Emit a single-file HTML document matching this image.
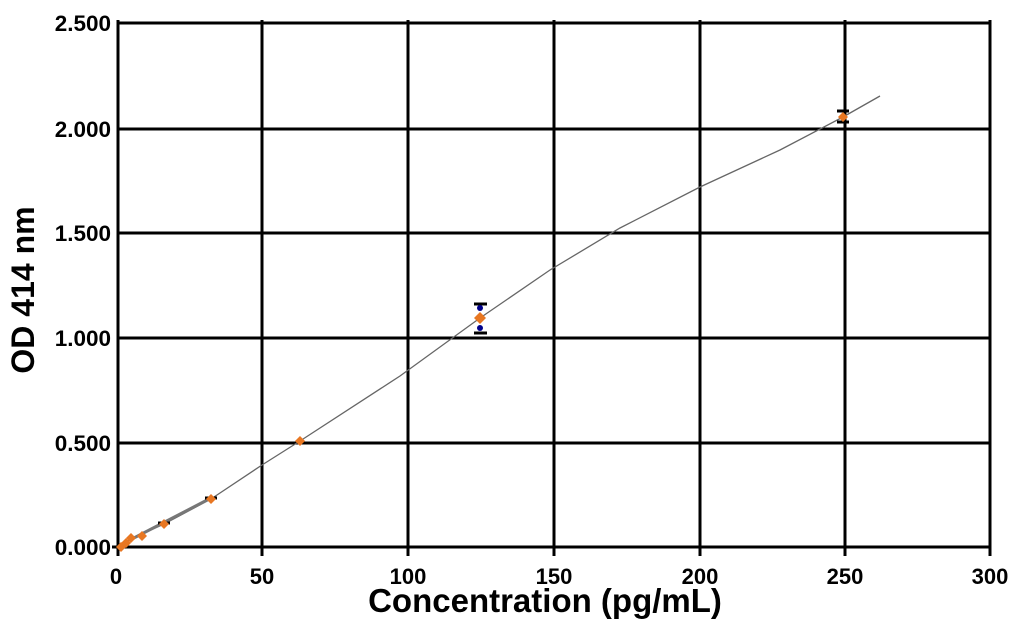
<!DOCTYPE html>
<html><head><style>body{margin:0;background:#fff}svg{display:block}</style></head><body>
<svg width="1016" height="623" xmlns="http://www.w3.org/2000/svg" font-family="Liberation Sans, Arial, sans-serif" font-weight="bold">
<g stroke="#000" stroke-width="3">
<line x1="118" y1="23" x2="990" y2="23"/>
<line x1="118" y1="129" x2="990" y2="129"/>
<line x1="118" y1="233" x2="990" y2="233"/>
<line x1="118" y1="338" x2="990" y2="338"/>
<line x1="118" y1="443" x2="990" y2="443"/>
<line x1="112" y1="547" x2="990" y2="547"/>
<line x1="118" y1="20" x2="118" y2="556"/>
<line x1="262" y1="20" x2="262" y2="556"/>
<line x1="408" y1="20" x2="408" y2="556"/>
<line x1="554" y1="20" x2="554" y2="556"/>
<line x1="700" y1="20" x2="700" y2="556"/>
<line x1="845" y1="20" x2="845" y2="556"/>
<line x1="990" y1="20" x2="990" y2="556"/>
</g>
<g font-size="22.5" text-anchor="end" fill="#000">
<text x="111" y="31">2.500</text>
<text x="111" y="137">2.000</text>
<text x="111" y="241">1.500</text>
<text x="111" y="346">1.000</text>
<text x="111" y="451">0.500</text>
<text x="111" y="555">0.000</text>
</g>
<g font-size="22" text-anchor="middle" fill="#000">
<text x="116" y="584">0</text><text x="262" y="584">50</text><text x="408" y="584">100</text>
<text x="554" y="584">150</text><text x="700" y="584">200</text><text x="845" y="584">250</text><text x="990" y="584">300</text>
</g>
<text x="545" y="612" font-size="33" text-anchor="middle">Concentration (pg/mL)</text>
<text transform="translate(34,290) rotate(-90)" font-size="32" text-anchor="middle">OD 414 nm</text>
<polyline fill="none" stroke="#666" stroke-width="1.3" points="118,547 131,539 164,524 211,499 262,465 300,441 400,376 480,318 550,270 620,228 700,187 780,150 843,117 880,96"/>
<line x1="130" y1="540" x2="211" y2="498" stroke="#777" stroke-width="3"/>
<g stroke="#000" stroke-width="3">
<line x1="474" y1="304" x2="487" y2="304"/><line x1="474" y1="333" x2="487" y2="333"/>
<line x1="837" y1="111" x2="849" y2="111"/><line x1="837" y1="122" x2="849" y2="122"/>
<line x1="205" y1="498" x2="217" y2="498"/><line x1="158" y1="523" x2="170" y2="523"/>
</g>
<circle cx="480" cy="308" r="3" fill="#00008b"/><circle cx="480" cy="328" r="3" fill="#00008b"/>
<g fill="#e87722">
<path d="M121,542l5,5-5,5-5-5z"/><path d="M126,538l5,5-5,5-5-5z"/><path d="M131,533l5,5-5,5-5-5z"/>
<path d="M142,531l5,5-5,5-5-5z"/><path d="M164,519l5,5-5,5-5-5z"/><path d="M211,494l5,5-5,5-5-5z"/>
<path d="M300,436l5,5-5,5-5-5z"/><path d="M480,312l6,6-6,6-6-6z"/><path d="M843,112l5,5-5,5-5-5z"/>
</g>
</svg>
</body></html>
